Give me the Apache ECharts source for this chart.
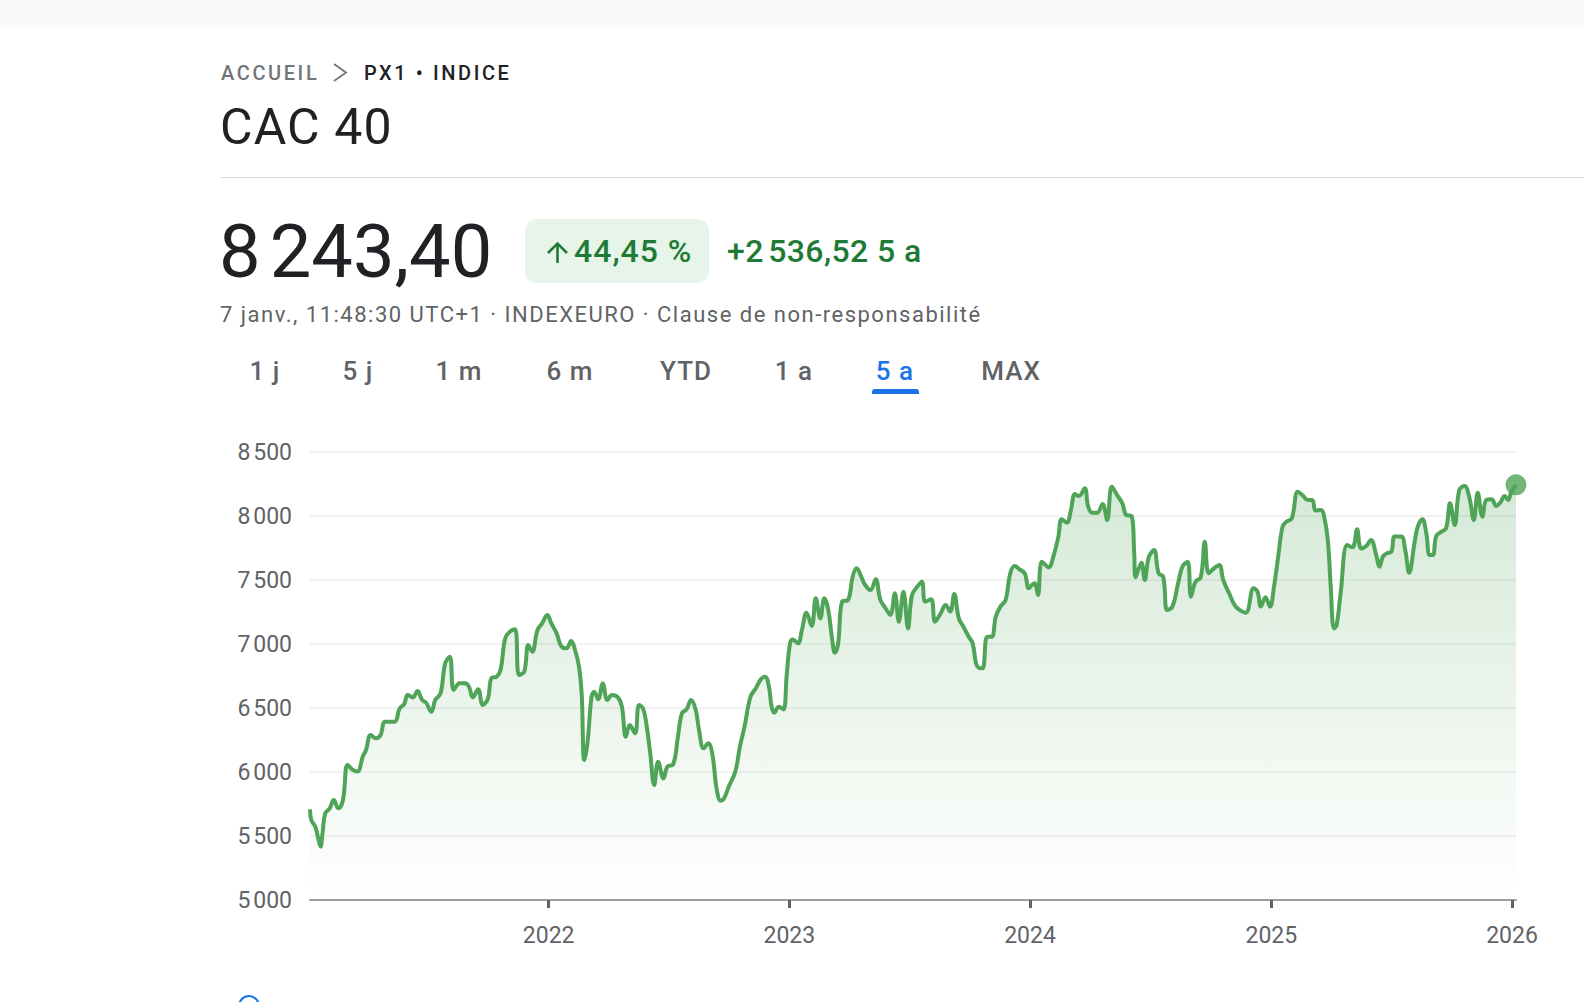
<!DOCTYPE html>
<html>
<head>
<meta charset="utf-8">
<script src="https://cdn.jsdelivr.net/npm/echarts@6/dist/echarts.min.js"></script>
<style>
html,body{margin:0;padding:0;width:1584px;height:1002px;overflow:hidden;background:#fff;font-family:Roboto,"Noto Sans",sans-serif;}
.abs{position:absolute;white-space:nowrap;}
#topbar{left:0;top:0;width:1584px;height:25px;background:#f8f9fa;}
#chart{left:0;top:400px;width:1584px;height:602px;}
.crumb{top:59px;height:28px;line-height:28px;font-size:20px;font-weight:500;letter-spacing:2.6px;}
#title{left:220px;top:99px;height:56px;line-height:56px;font-size:50px;color:#202124;letter-spacing:1.1px;}
#sep{left:220px;top:177px;width:1364px;height:1px;background:#dadce0;}
#price{left:219px;top:209px;height:86px;line-height:86px;font-size:74px;color:#202124;letter-spacing:0.3px;}
#badge{left:525px;top:219px;width:184px;height:64px;border-radius:12px;background:#e6f4ea;}
.green{top:233px;height:36px;line-height:36px;font-size:32px;font-weight:500;color:#1e7b36;letter-spacing:0.4px;}
#info{left:220px;top:300px;height:30px;line-height:30px;font-size:22px;color:#5f6368;letter-spacing:1.5px;}
.tab{top:354px;height:34px;line-height:34px;font-size:26px;font-weight:500;color:#5f6368;letter-spacing:1px;transform:translateX(-50%);}
#uline{left:872px;top:389px;width:47px;height:5px;background:#1a73e8;border-radius:3px 3px 0 0;}
#icons{left:0;top:0;z-index:5;pointer-events:none;}
</style>
</head>
<body>
<div id="topbar" class="abs"></div>
<div id="chart" class="abs"></div>
<div class="abs crumb" style="left:221px;color:#70757a;">ACCUEIL</div>
<div class="abs crumb" style="left:364px;color:#202124;">PX1 • INDICE</div>
<div id="title" class="abs">CAC 40</div>
<div id="sep" class="abs"></div>
<div id="price" class="abs"></div>
<div id="badge" class="abs"></div>
<div id="pct" class="abs green" style="left:574px;letter-spacing:1px;"></div>
<div id="chg" class="abs green" style="left:727px;"></div>
<div id="info" class="abs">7 janv., 11:48:30 UTC+1 · INDEXEURO · Clause de non-responsabilité</div>
<div id="tabs"></div>
<div id="uline" class="abs"></div>
<div class="abs" style="left:238px;top:995px;width:18px;height:18px;border:2.5px solid #1a73e8;border-radius:50%;"></div>
<svg id="icons" class="abs" width="720" height="300">
  <polyline points="334,64 346,72.5 334,81" fill="none" stroke="#70757a" stroke-width="1.8"/>
  <line x1="557.5" y1="244" x2="557.5" y2="263" stroke="#1e7b36" stroke-width="2.6"/>
  <polyline points="548,253 557.5,243.5 567,253" fill="none" stroke="#1e7b36" stroke-width="2.6"/>
</svg>
<script>
// ---- data (CAC 40, 5 years) ----
const lastPrice = '8\u202f243,40';
const changePct = '44,45 %';
const changeAbs = '+2\u202f536,52 5 a';
const tabLabels = ['1 j','5 j','1 m','6 m','YTD','1 a','5 a','MAX'];
const activeTab = '5 a';
const yTicks = [5000, 5500, 6000, 6500, 7000, 7500, 8000, 8500];

const dates = [
'2021-01-04','2021-01-06','2021-01-12','2021-01-17','2021-01-20','2021-01-23','2021-01-27','2021-02-03','2021-02-09','2021-02-16',
'2021-02-23','2021-03-02','2021-03-10','2021-03-17','2021-03-25','2021-03-30','2021-04-06','2021-04-14','2021-04-21','2021-04-28',
'2021-05-12','2021-05-20','2021-05-27','2021-06-01','2021-06-09','2021-06-16','2021-06-23','2021-06-29','2021-07-07','2021-07-13',
'2021-07-21','2021-07-28','2021-08-04','2021-08-10','2021-08-19','2021-08-27','2021-09-02','2021-09-08','2021-09-16','2021-09-23',
'2021-10-01','2021-10-06','2021-10-14','2021-10-20','2021-10-27','2021-11-03','2021-11-11','2021-11-17','2021-11-25','2021-12-01',
'2021-12-07','2021-12-15','2021-12-22','2021-12-30','2022-01-05','2022-01-13','2022-01-20','2022-01-28','2022-02-04','2022-02-10',
'2022-02-16','2022-02-20','2022-02-24','2022-03-01','2022-03-07','2022-03-11','2022-03-17','2022-03-24','2022-03-31','2022-04-07',
'2022-04-16','2022-04-22','2022-04-28','2022-05-04','2022-05-12','2022-05-18','2022-05-24','2022-05-29','2022-06-04','2022-06-10',
'2022-06-16','2022-06-24','2022-06-30','2022-07-09','2022-07-16','2022-07-22','2022-07-29','2022-08-05','2022-08-12','2022-08-17',
'2022-08-24','2022-08-31','2022-09-06','2022-09-13','2022-09-19','2022-09-24','2022-10-01','2022-10-11','2022-10-18','2022-10-25',
'2022-11-03','2022-11-11','2022-11-18','2022-11-25','2022-12-01','2022-12-05','2022-12-09','2022-12-16','2022-12-23','2022-12-28',
'2023-01-02','2023-01-06','2023-01-14','2023-01-20','2023-01-27','2023-02-04','2023-02-10','2023-02-17','2023-02-23','2023-03-01',
'2023-03-07','2023-03-11','2023-03-16','2023-03-22','2023-03-31','2023-04-07','2023-04-13','2023-04-20','2023-04-26','2023-05-04',
'2023-05-12','2023-05-19','2023-05-27','2023-06-03','2023-06-10','2023-06-16','2023-06-23','2023-06-30','2023-07-06','2023-07-14',
'2023-07-21','2023-07-26','2023-08-04','2023-08-10','2023-08-18','2023-08-26','2023-09-02','2023-09-08','2023-09-15','2023-09-22',
'2023-09-30','2023-10-06','2023-10-11','2023-10-15','2023-10-21','2023-10-28','2023-11-04','2023-11-10','2023-11-17','2023-11-25',
'2023-12-02','2023-12-09','2023-12-16','2023-12-24','2023-12-30','2024-01-04','2024-01-08','2024-01-13','2024-01-19','2024-01-29',
'2024-02-06','2024-02-13','2024-02-18','2024-02-26','2024-03-03','2024-03-09','2024-03-15','2024-03-24','2024-03-29','2024-04-04',
'2024-04-12','2024-04-20','2024-04-27','2024-05-04','2024-05-12','2024-05-20','2024-05-26','2024-06-03','2024-06-07','2024-06-09',
'2024-06-14','2024-06-18','2024-06-23','2024-06-29','2024-07-07','2024-07-14','2024-07-21','2024-07-27','2024-08-04','2024-08-12',
'2024-08-19','2024-08-27','2024-09-01','2024-09-08','2024-09-16','2024-09-22','2024-09-28','2024-10-06','2024-10-14','2024-10-20',
'2024-10-29','2024-11-08','2024-11-23','2024-12-05','2024-12-11','2024-12-16','2024-12-23','2024-12-30','2025-01-05','2025-01-12',
'2025-01-18','2025-01-24','2025-02-01','2025-02-10','2025-02-17','2025-02-25','2025-03-04','2025-03-09','2025-03-17','2025-03-23',
'2025-03-28','2025-04-01','2025-04-06','2025-04-10','2025-04-16','2025-04-26','2025-05-04','2025-05-11','2025-05-17','2025-05-25',
'2025-06-01','2025-06-09','2025-06-14','2025-06-19','2025-06-25','2025-07-02','2025-07-07','2025-07-17','2025-07-23','2025-07-29',
'2025-08-06','2025-08-11','2025-08-18','2025-08-24','2025-08-29','2025-09-03','2025-09-08','2025-09-16','2025-09-23','2025-09-29',
'2025-10-06','2025-10-13','2025-10-21','2025-10-28','2025-11-04','2025-11-10','2025-11-17','2025-11-23','2025-12-01','2025-12-08',
'2025-12-14','2025-12-21','2025-12-26','2025-12-31','2026-01-07'
];

const closes = [
5708,5625,5573,5469,5417,5521,5677,5716,5781,5716,
5781,6055,6016,6003,6120,6172,6289,6263,6289,6393,
6393,6497,6531,6602,6583,6633,6563,6542,6471,6563,
6615,6849,6901,6641,6693,6693,6667,6583,6646,6523,
6576,6732,6745,6797,7044,7096,7115,6758,6784,6992,
6940,7109,7161,7227,7161,7083,6984,6966,7023,6953,
6823,6614,6093,6237,6588,6627,6568,6692,6562,6601,
6583,6510,6276,6367,6302,6523,6497,6380,6146,5898,
6081,5950,6042,6062,6276,6458,6489,6562,6484,6328,
6185,6224,6146,5859,5776,5794,5885,6003,6198,6354,
6588,6653,6719,6745,6667,6510,6463,6510,6489,6760,
7005,7036,7005,7109,7245,7141,7357,7200,7357,7266,
7031,6932,7005,7331,7344,7526,7591,7526,7461,7422,
7505,7344,7279,7227,7396,7174,7409,7122,7383,7448,
7487,7331,7349,7174,7234,7305,7253,7391,7200,7135,
7057,7005,6849,6815,6810,7057,7057,7213,7292,7344,
7552,7609,7583,7552,7435,7461,7474,7383,7643,7599,
7695,7839,7974,7948,8047,8172,8156,8216,8078,8026,
8026,8094,7969,8229,8164,8099,8008,8000,7708,7521,
7591,7635,7500,7677,7734,7552,7526,7266,7292,7461,
7604,7643,7370,7487,7521,7799,7552,7591,7617,7500,
7396,7292,7245,7435,7409,7292,7365,7292,7448,7708,
7917,7956,7982,8190,8164,8125,8125,8042,8047,7969,
7786,7448,7122,7148,7396,7773,7755,7896,7747,7766,
7813,7695,7604,7682,7708,7721,7839,7839,7734,7557,
7786,7917,7974,7865,7695,7695,7844,7878,7904,8099,
7930,8203,8234,8151,7969,8182,7995,8125,8130,8078,
8104,8156,8125,8190,8243.40
];

// ---- header texts ----
document.getElementById('price').textContent = lastPrice;
document.getElementById('pct').textContent = changePct;
document.getElementById('chg').textContent = changeAbs;
const tabX = [265, 358, 459, 570, 686, 794, 895, 1011];
const tabsEl = document.getElementById('tabs');
tabLabels.forEach((t, i) => {
  const d = document.createElement('div');
  d.className = 'abs tab';
  d.style.left = tabX[i] + 'px';
  if (t === activeTab) d.style.color = '#1a73e8';
  d.textContent = t;
  tabsEl.appendChild(d);
});

// ---- chart ----
const green = '#50a458';
const fmtThousands = v => {
  const s = String(v);
  return s.length > 3 ? s.slice(0, s.length - 3) + '\u202f' + s.slice(-3) : s;
};
const series = dates.map((d, i) => [d, closes[i]]);
const last = series[series.length - 1];

const chart = echarts.init(document.getElementById('chart'), null, {renderer: 'svg'});
chart.setOption({
  animation: false,
  grid: {left: 310, right: 68, top: 52, bottom: 102},
  xAxis: {
    type: 'time',
    min: dates[0],
    max: dates[dates.length - 1],
    minInterval: 365 * 86400000,
    maxInterval: 366 * 86400000,
    axisLine: {show: true, lineStyle: {color: '#9aa0a6', width: 2}},
    axisTick: {show: true, length: 8, lineStyle: {color: '#5f6368', width: 3}},
    axisLabel: {formatter: '{yyyy}', color: '#5f6368', fontSize: 23, margin: 24, fontFamily: 'Roboto', showMinLabel: false},
    splitLine: {show: false},
    minorTick: {show: false}
  },
  yAxis: {
    type: 'value',
    min: yTicks[0],
    max: yTicks[yTicks.length - 1],
    interval: 500,
    axisLine: {show: false},
    axisTick: {show: false},
    axisLabel: {formatter: fmtThousands, color: '#5f6368', fontSize: 23, margin: 18, fontFamily: 'Roboto'},
    splitLine: {lineStyle: {color: '#eeeeee', width: 1.5}}
  },
  series: [
    {
      type: 'line',
      data: series,
      smooth: 0.4,
      showSymbol: false,
      lineStyle: {color: green, width: 4},
      areaStyle: {
        color: new echarts.graphic.LinearGradient(0, 0, 0, 1, [
          {offset: 0, color: 'rgba(80,164,88,0.34)'},
          {offset: 1, color: 'rgba(80,164,88,0.0)'}
        ])
      },
      z: 2
    },
    {
      type: 'scatter',
      data: [last],
      symbolSize: 21,
      itemStyle: {color: green},
      clip: false,
      z: 3
    }
  ]
});
</script>
</body>
</html>
